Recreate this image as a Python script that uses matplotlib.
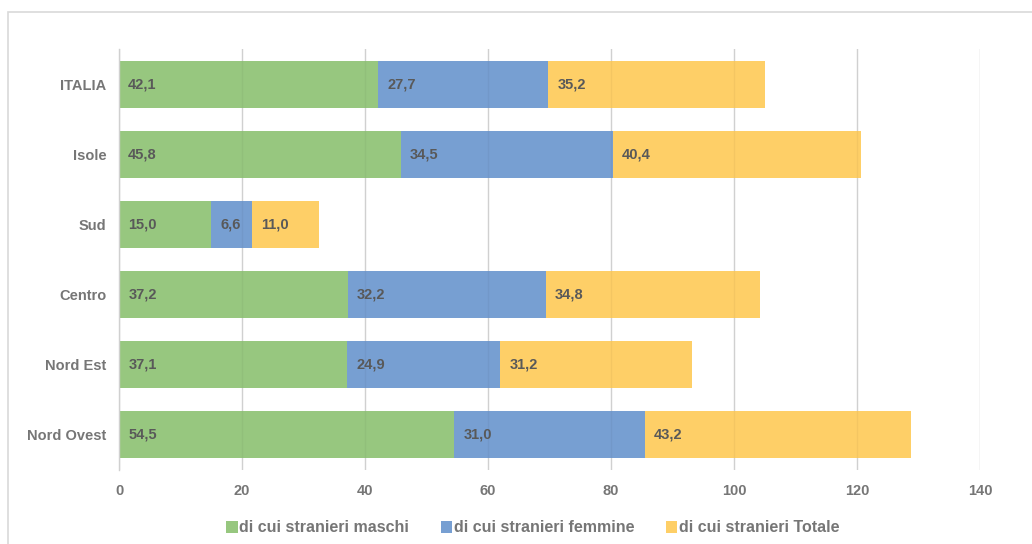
import numpy as np
import matplotlib.pyplot as plt
from matplotlib.patches import Rectangle

plt.rcParams['font.family'] = ['Liberation Sans', 'DejaVu Sans']
plt.rcParams['font.weight'] = 'bold'

regioni = ["ITALIA", "Isole", "Sud", "Centro", "Nord Est", "Nord Ovest"]
maschi = [42.1, 45.8, 15.0, 37.2, 37.1, 54.5]
femmine = [27.7, 34.5, 6.6, 32.2, 24.9, 31.0]
totale = [35.2, 40.4, 11.0, 34.8, 31.2, 43.2]
serie = ["di cui stranieri maschi", "di cui stranieri femmine", "di cui stranieri Totale"]
colori = ["#97c77f", "#779fd2", "#fecf67"]

W, H = 1032, 544
fig = plt.figure(figsize=(W / 100, H / 100), dpi=100)
ax = fig.add_axes([119 / W, 1 - 470 / H, (980 - 119) / W, (470 - 49) / H])

# cornice grigia del grafico
fig.patches.append(Rectangle((8 / W, -0.1), 1.2, 1 - 12 / H + 0.1, transform=fig.transFigure,
                             fill=False, edgecolor="#d9d9d9", linewidth=1.2))

y = np.arange(len(regioni))
left = np.zeros(len(regioni))
for vals, nome, col in zip([maschi, femmine, totale], serie, colori):
    vals = np.array(vals)
    ax.barh(y, vals, left=left, height=0.67, color=col, label=nome, zorder=2)
    for yi, l, v in zip(y, left, vals):
        ax.text(l + 1.5, yi, f"{v:.1f}".replace(".", ","), va="center", ha="left",
                fontsize=10.5, color="#595959", fontweight="bold", zorder=4)
    left += vals

ax.set_ylim(len(regioni) - 0.5, -0.5)
ax.set_xlim(0, 140)
ax.set_xticks(np.arange(0, 141, 20))
ax.set_yticks(y)
ax.set_yticklabels(regioni)
ax.grid(axis="x", color="#d9d9d9", linewidth=1, zorder=1)
ax.set_axisbelow(True)
for xv in ax.get_xticks()[1:]:
    ax.axvline(xv, color="#000000", alpha=0.04, linewidth=1, zorder=3)
for s in ["top", "right", "bottom"]:
    ax.spines[s].set_visible(False)
ax.spines["left"].set_color("#d0d0d0")
ax.spines["left"].set_linewidth(1)
ax.tick_params(axis="both", length=0, colors="#767676", labelsize=10.5)
ax.tick_params(axis="x", pad=10)
ax.tick_params(axis="y", pad=9)

fig.legend(loc="center", bbox_to_anchor=(533 / W, 1 - 528 / H), ncol=3, frameon=False,
           handlelength=0.7, handleheight=0.7, handletextpad=0.1, columnspacing=2.0,
           prop={"size": 11.5, "weight": "bold"}, labelcolor="#767676")

fig.savefig("out.png", dpi=100)
